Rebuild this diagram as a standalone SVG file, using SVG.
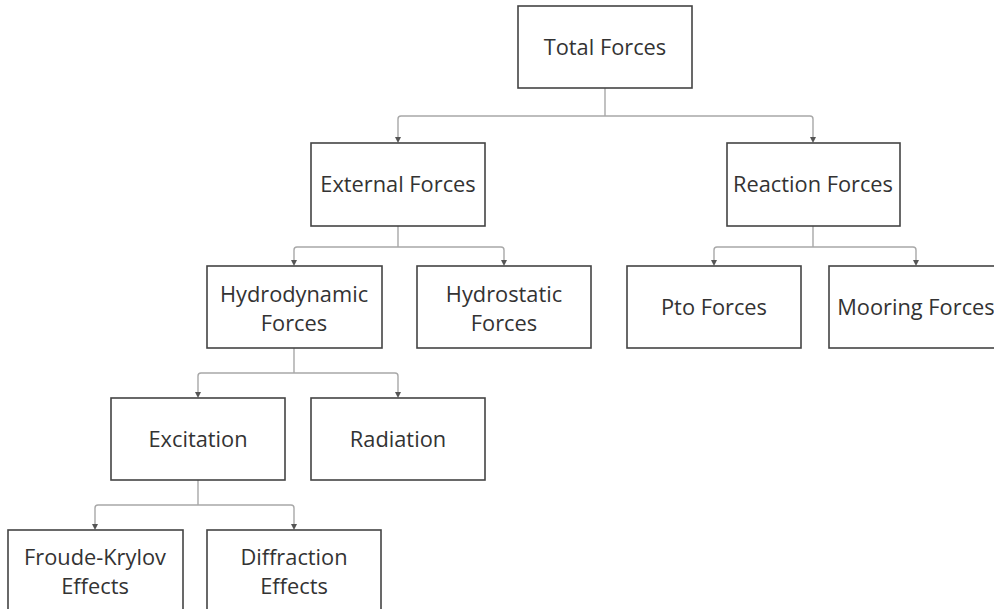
<svg xmlns="http://www.w3.org/2000/svg" width="994" height="609" viewBox="0 0 994 609">
  <defs>
    <marker id="arrow" viewBox="0 0 6 6" refX="6" refY="3" markerWidth="6" markerHeight="6" markerUnits="userSpaceOnUse" orient="auto">
      <path d="M0,0 L6,3 L0,6 Z" fill="#555"/>
    </marker>
    <style>
      .box { fill: #fff; stroke: #444; stroke-width: 1.6; }
      .lbl { font-family: "Open Sans", "Liberation Sans", sans-serif; font-size: 21.8px; fill: #333; text-anchor: middle; }
      .edge { fill: none; stroke: #a8a8a8; stroke-width: 1.4; }
      .tip { fill: none; stroke: none; marker-end: url(#arrow); }
    </style>
  </defs>
  <rect width="994" height="609" fill="#fff"/>

  <g id="connectors">
    <path class="edge" d="M605,88 V116 M401,116 H810 Q813,116 813,119 V137 M605,116 H401 Q398,116 398,119 V137"/>
    <path class="edge" d="M398,226 V247 M297,247 H501 Q504,247 504,250 V260 M297,247 Q294,247 294,250 V260"/>
    <path class="edge" d="M813,226 V247 M717,247 H913 Q916,247 916,250 V260 M717,247 Q714,247 714,250 V260"/>
    <path class="edge" d="M294,348 V373 M201,373 H395 Q398,373 398,376 V392 M201,373 Q198,373 198,376 V392"/>
    <path class="edge" d="M198,480 V505 M98,505 H291 Q294,505 294,508 V524 M98,505 Q95,505 95,508 V524"/>
    <path class="tip" d="M398,136 V143"/>
    <path class="tip" d="M813,136 V143"/>
    <path class="tip" d="M294,259 V266"/>
    <path class="tip" d="M504,259 V266"/>
    <path class="tip" d="M714,259 V266"/>
    <path class="tip" d="M916,259 V266"/>
    <path class="tip" d="M198,391 V398"/>
    <path class="tip" d="M398,391 V398"/>
    <path class="tip" d="M95,523 V530"/>
    <path class="tip" d="M294,523 V530"/>
  </g>

  <g id="total-forces">
    <rect class="box" x="518" y="6" width="174" height="82"/>
    <text class="lbl" x="605" y="55">Total Forces</text>
  </g>
  <g id="external-forces">
    <rect class="box" x="311" y="143" width="174" height="83"/>
    <text class="lbl" x="398" y="192">External Forces</text>
  </g>
  <g id="reaction-forces">
    <rect class="box" x="727" y="143" width="173" height="83"/>
    <text class="lbl" x="813" y="192">Reaction Forces</text>
  </g>
  <g id="hydrodynamic-forces">
    <rect class="box" x="207" y="266" width="175" height="82"/>
    <text class="lbl" x="294" y="302">Hydrodynamic</text>
    <text class="lbl" x="294" y="331">Forces</text>
  </g>
  <g id="hydrostatic-forces">
    <rect class="box" x="417" y="266" width="174" height="82"/>
    <text class="lbl" x="504" y="302">Hydrostatic</text>
    <text class="lbl" x="504" y="331">Forces</text>
  </g>
  <g id="pto-forces">
    <rect class="box" x="627" y="266" width="174" height="82"/>
    <text class="lbl" x="714" y="315">Pto Forces</text>
  </g>
  <g id="mooring-forces">
    <rect class="box" x="829" y="266" width="174" height="82"/>
    <text class="lbl" x="916" y="315">Mooring Forces</text>
  </g>
  <g id="excitation">
    <rect class="box" x="111" y="398" width="174" height="82"/>
    <text class="lbl" x="198" y="447">Excitation</text>
  </g>
  <g id="radiation">
    <rect class="box" x="311" y="398" width="174" height="82"/>
    <text class="lbl" x="398" y="447">Radiation</text>
  </g>
  <g id="froude-krylov-effects">
    <rect class="box" x="8" y="530" width="175" height="82"/>
    <text class="lbl" x="95" y="565">Froude-Krylov</text>
    <text class="lbl" x="95" y="594">Effects</text>
  </g>
  <g id="diffraction-effects">
    <rect class="box" x="207" y="530" width="174" height="82"/>
    <text class="lbl" x="294" y="565">Diffraction</text>
    <text class="lbl" x="294" y="594">Effects</text>
  </g>
</svg>
